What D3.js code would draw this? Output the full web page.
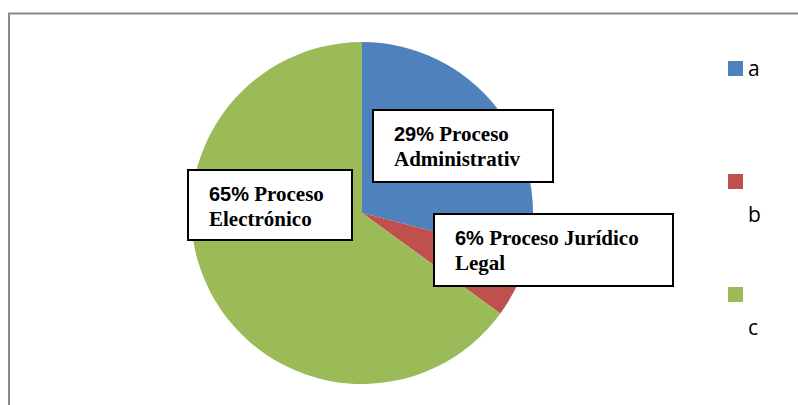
<!DOCTYPE html>
<html lang="es">
<head>
<meta charset="utf-8">
<title>Pie</title>
<script src="https://d3js.org/d3.v7.min.js"></script>
<style>
  body { margin: 0; background: #fff; }
  .legend text { font-family: "Open Sans", "DejaVu Sans", sans-serif; font-size: 21px; }
</style>
</head>
<body>
<div id="viz"></div>
<script>
// data
var categories = ["a", "b", "c"];
var values = [29, 6, 65];
var pctLabels = ["29%", "6%", "65%"];
var lineOne = [" Proceso", " Proceso Jurídico", " Proceso"];
var lineTwo = ["Administrativ", "Legal", "Electrónico"];
var colors = ["#4F81BD", "#C0504D", "#9BBB59"];

var width = 798, height = 405;
var cx = 362, cy = 213, radius = 171;
var serif = "'Liberation Serif', 'Times New Roman', serif";
var sans = "'Liberation Sans', Arial, sans-serif";

// label box placement (top-left corner + size)
var boxes = [
  {x: 373, y: 110, w: 180, h: 72},
  {x: 434, y: 214, w: 239, h: 72},
  {x: 188, y: 170, w: 164, h: 70}
];

var svg = d3.select("#viz")
  .append("svg")
    .attr("width", width)
    .attr("height", height);

// chart border
svg.append("rect")
  .attr("x", 9).attr("y", 13.5)
  .attr("width", 820).attr("height", 420)
  .attr("fill", "none")
  .attr("stroke", "#898989")
  .attr("stroke-width", 2);

var pie = d3.pie().sort(null).value(function(d) { return d; });
var arc = d3.arc().innerRadius(0).outerRadius(radius);

var g = svg.append("g").attr("transform", "translate(" + cx + "," + cy + ")");
g.selectAll("path")
  .data(pie(values))
  .enter().append("path")
    .attr("d", arc)
    .attr("fill", function(d, i) { return colors[i]; });

// label boxes
var lab = svg.append("g").selectAll("g")
  .data(categories)
  .enter().append("g")
    .attr("transform", function(d, i) { return "translate(" + boxes[i].x + "," + boxes[i].y + ")"; });

lab.append("rect")
  .attr("width", function(d, i) { return boxes[i].w; })
  .attr("height", function(d, i) { return boxes[i].h; })
  .attr("fill", "#fff")
  .attr("stroke", "#000")
  .attr("stroke-width", 2);

var t1 = lab.append("text")
  .attr("x", 21).attr("y", 31)
  .style("font-family", serif)
  .style("font-weight", "bold")
  .style("font-size", "21px");
t1.append("tspan").style("font-family", sans).style("font-size", "20px")
  .text(function(d, i) { return pctLabels[i]; });
t1.append("tspan").text(function(d, i) { return lineOne[i]; });

lab.append("text")
  .attr("x", 21).attr("y", 56)
  .style("font-family", serif)
  .style("font-weight", "bold")
  .style("font-size", "21px")
  .text(function(d, i) { return lineTwo[i]; });

// legend
var legendY = d3.scalePoint().domain(categories).range([61, 287]);
var leg = svg.append("g").attr("class", "legend").selectAll("g")
  .data(categories)
  .enter().append("g")
    .attr("transform", function(d) { return "translate(728," + legendY(d) + ")"; });

leg.append("rect")
  .attr("width", 15).attr("height", 15)
  .attr("fill", function(d, i) { return colors[i]; });

leg.append("text")
  .attr("x", 20)
  .attr("y", function(d, i) { return i === 0 ? 15 : 48; })
  .text(function(d) { return d; });
</script>
</body>
</html>
